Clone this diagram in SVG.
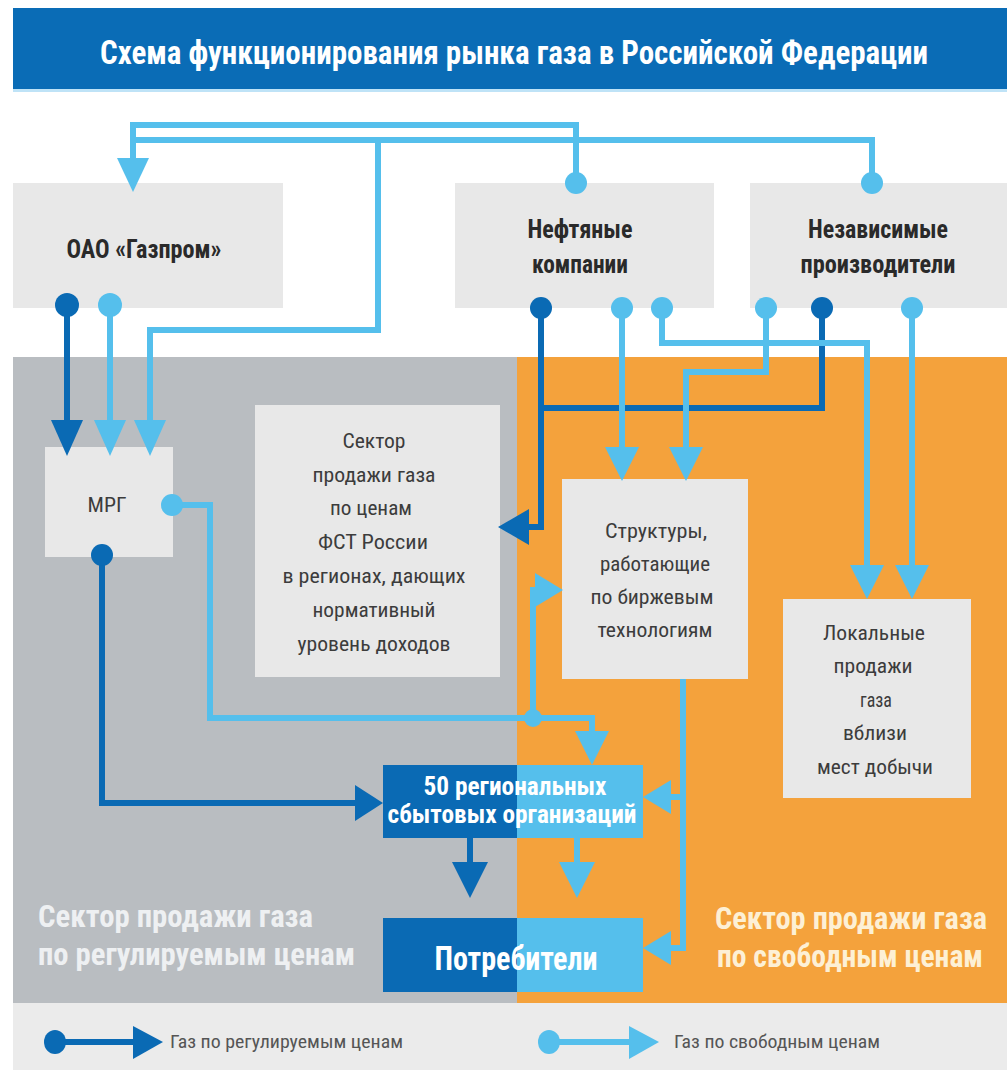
<svg xmlns="http://www.w3.org/2000/svg" width="1007" height="1070" viewBox="0 0 1007 1070">
<style>
text{font-family:"Liberation Sans Narrow","Roboto Condensed","Liberation Sans",Arial,sans-serif;}
.box{fill:#e8e8e8;}
.ttl{font-weight:bold;font-size:26px;fill:#2a2a2a;text-anchor:middle;}
.txt{font-size:21px;fill:#3c3c3c;text-anchor:middle;}
.wh{font-weight:bold;fill:#ffffff;text-anchor:middle;}
.sec{font-weight:bold;font-size:32px;}
.d{fill:none;stroke:#0a6ab4;stroke-width:6;}
.l{fill:none;stroke:#55bfec;stroke-width:6;}
.dh{fill:#0a6ab4;}
.lh{fill:#55bfec;}
.leg{font-size:19px;fill:#555;}
</style>
<rect width="1007" height="1070" fill="#ffffff"/>
<g id="title">
<rect x="13" y="8" width="994" height="82" fill="#0a6cb6"/>
<rect x="13" y="89" width="994" height="3" fill="#bfe3f7"/>
<text x="514" y="64" class="wh" font-size="34" textLength="828" lengthAdjust="spacingAndGlyphs">Схема функционирования рынка газа в Российской Федерации</text>
</g>
<g id="sectors">
<rect x="13" y="357" width="505" height="646" fill="#b9bdc1"/>
<rect x="517" y="357" width="490" height="646" fill="#f4a23c"/>
<text x="38" y="927" class="sec" fill="#eef0f2" textLength="275" lengthAdjust="spacingAndGlyphs">Сектор продажи газа</text>
<text x="38" y="965" class="sec" fill="#eef0f2" textLength="317" lengthAdjust="spacingAndGlyphs">по регулируемым ценам</text>
<text x="715" y="929" class="sec" fill="#fdf0d5" textLength="272" lengthAdjust="spacingAndGlyphs">Сектор продажи газа</text>
<text x="717" y="967" class="sec" fill="#fdf0d5" textLength="266" lengthAdjust="spacingAndGlyphs">по свободным ценам</text>
</g>
<g id="gazprom">
<rect class="box" x="13" y="183" width="270" height="125"/>
<text x="144" y="258" class="ttl" textLength="155" lengthAdjust="spacingAndGlyphs">ОАО «Газпром»</text>
</g>
<g id="oil">
<rect class="box" x="455" y="183" width="259" height="125"/>
<text x="580" y="238" class="ttl" textLength="105" lengthAdjust="spacingAndGlyphs">Нефтяные</text>
<text x="580" y="273" class="ttl" textLength="96" lengthAdjust="spacingAndGlyphs">компании</text>
</g>
<g id="indep">
<rect class="box" x="750" y="183" width="257" height="125"/>
<text x="878" y="238" class="ttl" textLength="140" lengthAdjust="spacingAndGlyphs">Независимые</text>
<text x="878" y="273" class="ttl" textLength="155" lengthAdjust="spacingAndGlyphs">производители</text>
</g>
<g id="mrg">
<rect class="box" x="45" y="447" width="128" height="110"/>
<text x="107" y="512" class="txt" textLength="39" lengthAdjust="spacingAndGlyphs">МРГ</text>
</g>
<g id="fst">
<rect class="box" x="255" y="405" width="245" height="272"/>
<text x="374" y="448" class="txt" textLength="63" lengthAdjust="spacingAndGlyphs">Сектор</text>
<text x="374" y="482" class="txt" textLength="123" lengthAdjust="spacingAndGlyphs">продажи газа</text>
<text x="371" y="515" class="txt" textLength="82" lengthAdjust="spacingAndGlyphs">по ценам</text>
<text x="373" y="549" class="txt" textLength="110" lengthAdjust="spacingAndGlyphs">ФСТ России</text>
<text x="374" y="583" class="txt" textLength="183" lengthAdjust="spacingAndGlyphs">в регионах, дающих</text>
<text x="374" y="617" class="txt" textLength="123" lengthAdjust="spacingAndGlyphs">нормативный</text>
<text x="374" y="651" class="txt" textLength="153" lengthAdjust="spacingAndGlyphs">уровень доходов</text>
</g>
<g id="exchange">
<rect class="box" x="562" y="479" width="186" height="200"/>
<text x="656" y="538" class="txt" textLength="102" lengthAdjust="spacingAndGlyphs">Структуры,</text>
<text x="655" y="571" class="txt" textLength="110" lengthAdjust="spacingAndGlyphs">работающие</text>
<text x="652" y="604" class="txt" textLength="123" lengthAdjust="spacingAndGlyphs">по биржевым</text>
<text x="655" y="637" class="txt" textLength="115" lengthAdjust="spacingAndGlyphs">технологиям</text>
</g>
<g id="local">
<rect class="box" x="783" y="599" width="188" height="199"/>
<text x="874" y="640" class="txt" textLength="102" lengthAdjust="spacingAndGlyphs">Локальные</text>
<text x="873" y="673" class="txt" textLength="79" lengthAdjust="spacingAndGlyphs">продажи</text>
<text x="876" y="707" class="txt" textLength="32" lengthAdjust="spacingAndGlyphs">газа</text>
<text x="875" y="740" class="txt" textLength="64" lengthAdjust="spacingAndGlyphs">вблизи</text>
<text x="875" y="774" class="txt" textLength="116" lengthAdjust="spacingAndGlyphs">мест добычи</text>
</g>
<g id="regional">
<rect x="383" y="765" width="135" height="73" fill="#0a6ab4"/>
<rect x="517" y="765" width="126" height="73" fill="#55bfec"/>
<text x="515" y="795" class="wh" font-size="25" textLength="183" lengthAdjust="spacingAndGlyphs">50 региональных</text>
<text x="512" y="823" class="wh" font-size="25" textLength="249" lengthAdjust="spacingAndGlyphs">сбытовых организаций</text>
</g>
<g id="consumers">
<rect x="383" y="918" width="135" height="74" fill="#0a6ab4"/>
<rect x="517" y="918" width="126" height="74" fill="#55bfec"/>
<text x="516" y="970" class="wh" font-size="34" textLength="163" lengthAdjust="spacingAndGlyphs">Потребители</text>
</g>
<g id="connectors">
<path class="l" d="M576,183 V125 H133 V158"/>
<polygon class="lh" points="117,158 133,192 149,158"/>
<circle class="lh" cx="576" cy="183" r="11"/>
<path class="l" d="M872,183 V140 H133"/>
<path class="l" d="M378,140 V330 H150 V420" stroke-width="7"/>
<circle class="lh" cx="872" cy="183" r="11"/>
<path class="d" d="M67,305 V420" stroke-width="8"/>
<polygon class="dh" points="51,420 67,456 83,420"/>
<circle class="dh" cx="67" cy="305" r="12"/>
<path class="l" d="M110,305 V420" stroke-width="8"/>
<polygon class="lh" points="94,420 110,456 126,420"/>
<circle class="lh" cx="110" cy="305" r="12"/>
<polygon class="lh" points="134,420 150,456 166,420"/>
<path class="l" d="M172,505 H210 V718 H592 V733"/>
<circle class="lh" cx="172" cy="505" r="11"/>
<polygon class="lh" points="575,731 592,765 609,731"/>
<path class="l" d="M533,718 V590 H536"/>
<polygon class="lh" points="535,573 563,590 535,607"/>
<circle class="lh" cx="533" cy="718" r="9"/>
<path class="d" d="M102,555 V803 H355"/>
<polygon class="dh" points="355,785 383,803 355,821"/>
<circle class="dh" cx="102" cy="555" r="11"/>
<path class="d" d="M541,308 V527 H528"/>
<polygon class="dh" points="529,509 498,527 529,545"/>
<circle class="dh" cx="541" cy="308" r="11"/>
<path class="d" d="M822,308 V408 H541"/>
<circle class="dh" cx="822" cy="308" r="11"/>
<path class="l" d="M622,308 V447"/>
<polygon class="lh" points="605,447 622,481 639,447"/>
<circle class="lh" cx="622" cy="308" r="11"/>
<path class="l" d="M662,308 V343 H867 V565"/>
<polygon class="lh" points="850,565 867,599 884,565"/>
<circle class="lh" cx="662" cy="308" r="11"/>
<path class="l" d="M766,308 V372 H686 V447"/>
<polygon class="lh" points="669,447 686,481 703,447"/>
<circle class="lh" cx="766" cy="308" r="11"/>
<path class="l" d="M912,308 V565"/>
<polygon class="lh" points="895,565 912,599 929,565"/>
<circle class="lh" cx="912" cy="308" r="11"/>
<path class="l" d="M683,679 V948 H670"/>
<polygon class="lh" points="671,931 643,948 671,965"/>
<path class="l" d="M683,797 H670"/>
<polygon class="lh" points="671,780 643,797 671,814"/>
<path class="d" d="M470,838 V862"/>
<polygon class="dh" points="452,862 470,898 488,862"/>
<path class="l" d="M577,838 V862"/>
<polygon class="lh" points="559,862 577,898 595,862"/>
</g>
<g id="legend">
<rect x="13" y="1003" width="994" height="67" fill="#ebebeb"/>
<path class="d" d="M55,1042 H134" stroke-width="8"/>
<polygon class="dh" points="133,1026 163,1042 133,1059"/>
<ellipse class="dh" cx="55" cy="1042" rx="11" ry="12"/>
<text x="170" y="1048" class="leg" textLength="233" lengthAdjust="spacingAndGlyphs">Газ по регулируемым ценам</text>
<path class="l" d="M549,1042 H630" stroke-width="8"/>
<polygon class="lh" points="629,1026 659,1042 629,1059"/>
<ellipse class="lh" cx="549" cy="1042" rx="11" ry="12"/>
<text x="674" y="1048" class="leg" textLength="206" lengthAdjust="spacingAndGlyphs">Газ по свободным ценам</text>
</g>
</svg>
